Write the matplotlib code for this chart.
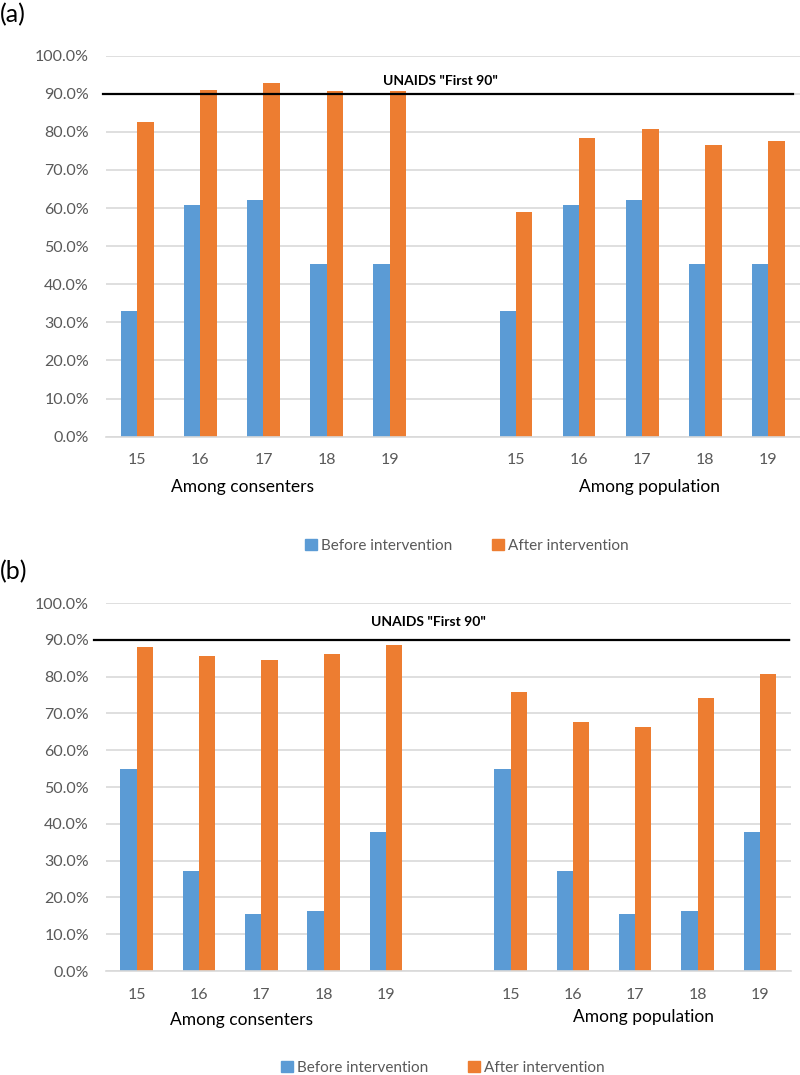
import matplotlib.pyplot as plt
import matplotlib.transforms as mtransforms
from matplotlib.patches import Patch

plt.rcParams['font.family'] = ['Lato', 'DejaVu Sans']

ages = ['15', '16', '17', '18', '19']
groups = ['Among consenters', 'Among population']
y_ticks = [0, 10, 20, 30, 40, 50, 60, 70, 80, 90, 100]
target = 90
target_label = 'UNAIDS "First 90"'
series_names = ['Before intervention', 'After intervention']

# panel (a)
a_before_consent = [33.0, 60.9, 62.2, 45.2, 45.2]
a_after_consent = [82.5, 91.0, 92.9, 90.6, 90.6]
a_before_pop = [33.0, 60.9, 62.2, 45.2, 45.2]
a_after_pop = [59.0, 78.5, 80.7, 76.6, 77.6]

# panel (b)
b_before_consent = [55.0, 27.3, 15.4, 16.3, 37.8]
b_after_consent = [88.0, 85.5, 84.5, 86.1, 88.6]
b_before_pop = [55.0, 27.3, 15.4, 16.3, 37.8]
b_after_pop = [75.8, 67.8, 66.3, 74.3, 80.7]

BLUE = '#5B9BD5'
ORANGE = '#ED7D31'
GRID = '#D9D9D9'
TXT = '#595959'

fig = plt.figure(figsize=(8, 10.75), dpi=100)


def draw_panel(rect, tag, tag_y, before, after, line_span, label_xy, grp_pos, legend_xy):
    ax = fig.add_axes(rect)
    # 5 ages, one empty slot, 5 ages
    pos = list(range(5)) + list(range(6, 11))
    labels = ages + ages
    w = 0.26
    ax.bar([p - w / 2 for p in pos], before, width=w, color=BLUE, zorder=2)
    ax.bar([p + w / 2 for p in pos], after, width=w, color=ORANGE, zorder=2)

    ax.set_xlim(-0.5, 10.5)
    ax.set_ylim(0, 100)
    ax.set_yticks(y_ticks)
    ax.set_yticklabels(['%.1f%%' % t for t in y_ticks])
    ax.set_xticks(pos)
    ax.set_xticklabels(labels)
    ax.tick_params(length=0, labelsize=11.5, labelcolor=TXT)
    ax.tick_params(axis='y', pad=12)
    ax.tick_params(axis='x', pad=12)
    ax.yaxis.grid(True, color=GRID, linewidth=1.2, zorder=0)
    ax.set_axisbelow(True)
    for s in ['top', 'left', 'right']:
        ax.spines[s].set_visible(False)
    ax.spines['bottom'].set_color(GRID)
    ax.spines['bottom'].set_linewidth(1.2)

    ax.axhline(target, xmin=line_span[0], xmax=line_span[1], color='black',
               linewidth=1.6, clip_on=False, zorder=3)
    ax.text(label_xy[0], label_xy[1], target_label, ha='center', va='center',
            fontsize=10, fontweight='bold', color='black')

    trans = mtransforms.blended_transform_factory(ax.transData, ax.transAxes)
    for name, (gx, gy) in zip(groups, grp_pos):
        ax.text(gx, gy, name, transform=trans, ha='center', va='center',
                fontsize=12.5, color='black')

    fig.text(0.0, tag_y, tag, fontsize=18, ha='left', va='center')

    handles = [Patch(color=BLUE), Patch(color=ORANGE)]
    fig.legend(handles, series_names, loc='center', bbox_to_anchor=legend_xy,
               ncol=2, frameon=False, fontsize=11, labelcolor=TXT,
               handlelength=0.75, handleheight=0.75, handletextpad=0.3,
               columnspacing=2.6)
    return ax


draw_panel([0.1321, 0.5938, 0.8679, 0.3544], '(a)', 1 - 15 / 1075,
           a_before_consent + a_before_pop, a_after_consent + a_after_pop,
           (-0.004, 0.99), (4.8, 93.4),
           [(1.675, -0.131), (8.11, -0.131)], (467 / 800, 1 - 546 / 1075))

draw_panel([0.1319, 0.0967, 0.8569, 0.3423], '(b)', 1 - 572 / 1075,
           b_before_consent + b_before_pop, b_after_consent + b_after_pop,
           (-0.017, 0.997), (4.68, 94.8),
           [(1.674, -0.133), (8.13, -0.124)], (443 / 800, 1 - 1068 / 1075))

fig.savefig('out.png', dpi=100)
